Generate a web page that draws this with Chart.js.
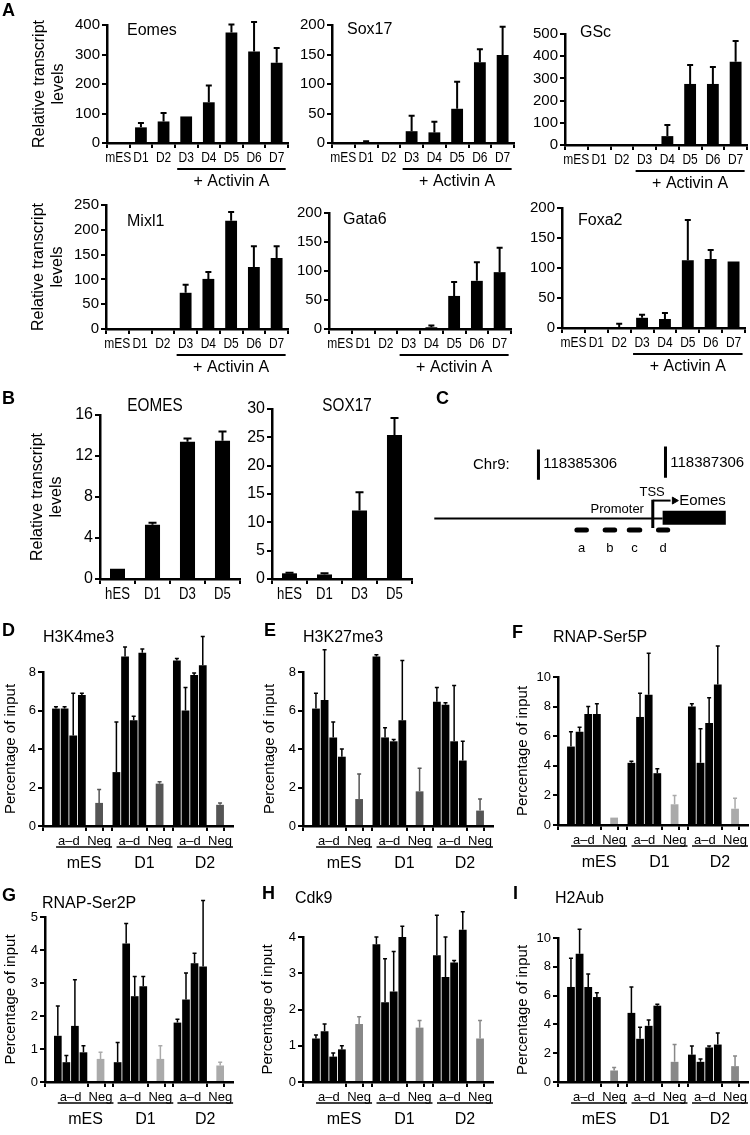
<!DOCTYPE html>
<html>
<head>
<meta charset="utf-8">
<script src="https://cdn.jsdelivr.net/npm/chart.js@4.4.1/dist/chart.umd.min.js"></script>
<style>
  body { margin: 0; background: #fff; width: 750px; height: 1135px; position: relative; overflow: hidden; }
  canvas { position: absolute; }
  .t { position: absolute; white-space: nowrap; line-height: 1; color: #000; font-family: "Liberation Sans", Arial, sans-serif; }
</style>
</head>
<body>
<script>
// ---- Panel A: mouse ES cells + Activin A (relative transcript levels) ----
const daysA = ['mES', 'D1', 'D2', 'D3', 'D4', 'D5', 'D6', 'D7'];
const eomes = [0, 53, 73, 90, 138, 375, 310, 272];
const eomesSd = [0, 15, 29, 0, 57, 27, 100, 50];
const sox17 = [0, 1, 0, 20, 18, 58, 137, 149];
const sox17Sd = [0, 2, 0, 26, 18, 46, 22, 48];
const gsc = [0, 0, 0, 0, 40, 275, 275, 375];
const gscSd = [0, 0, 0, 0, 50, 85, 76, 94];
const mixl1 = [0, 0, 0, 73, 101, 218, 125, 143];
const mixl1Sd = [0, 0, 0, 16, 14, 18, 42, 24];
const gata6 = [0, 0, 0, 0, 3, 57, 83, 98];
const gata6Sd = [0, 0, 0, 0, 3, 24, 32, 42];
const foxa2 = [0, 0, 1, 17, 15, 113, 115, 111];
const foxa2Sd = [0, 0, 6, 5, 10, 67, 15, 0];

// ---- Panel B: human ES cells ----
const daysB = ['hES', 'D1', 'D3', 'D5'];
const eomesH = [1.0, 5.3, 13.4, 13.5];
const eomesHSd = [0, 0.2, 0.3, 0.9];
const sox17H = [1.0, 0.8, 12.1, 25.4];
const sox17HSd = [0.1, 0.2, 3.2, 3.0];

// ---- Panel C: Eomes locus (bp relative to first coordinate) ----
const chrCoords = [118385306, 118387306];
const locusStart = -1640, tssPos = 1800, geneStart = 1955, geneEnd = 2950, arrowTip = 2140;
const primerNames = ['a', 'b', 'c', 'd'];
const primerStart = [565, 1010, 1390, 1850];
const primerEnd = [795, 1240, 1635, 2075];

// ---- Panels D-I: ChIP, amplicons a-d then Neg, for mES / D1 / D2 ----
const groups = ['mES', 'D1', 'D2'];
const h3k4me3 = [6.1, 6.1, 4.7, 6.8, 1.2, 2.8, 8.8, 5.5, 9.0, 2.2, 8.6, 6.0, 7.85, 8.35, 1.1];
const h3k4me3Sd = [0.1, 0.1, 2.2, 0.1, 0.7, 2.6, 0.5, 0.2, 0.2, 0.1, 0.1, 1.2, 0.1, 1.5, 0.1];
const h3k27me3 = [6.1, 6.55, 4.6, 3.6, 1.4, 8.8, 4.6, 4.4, 5.5, 1.8, 6.45, 6.3, 4.4, 3.4, 0.8];
const h3k27me3Sd = [0.8, 2.6, 0.8, 0.4, 1.3, 0.1, 0.5, 0.1, 3.1, 1.2, 0.75, 0.1, 2.9, 1.0, 0.6];
const ser5p = [5.3, 6.3, 7.5, 7.5, 0.5, 4.2, 7.3, 8.8, 3.5, 1.4, 8.0, 4.2, 6.9, 9.5, 1.1];
const ser5pSd = [1.0, 0.3, 0.5, 0.7, 0, 0.1, 1.6, 2.8, 0.3, 0.6, 0.2, 2.3, 1.7, 2.6, 0.7];
const ser2p = [1.4, 0.6, 1.7, 0.9, 0.7, 0.6, 4.2, 2.6, 2.9, 0.7, 1.8, 2.5, 3.6, 3.5, 0.5];
const ser2pSd = [0.9, 0.2, 1.4, 0.2, 0.2, 0.6, 0.6, 0.6, 0.3, 0.4, 0.1, 0.8, 0.3, 2.0, 0.1];
const cdk9 = [1.2, 1.4, 0.7, 0.9, 1.6, 3.8, 2.2, 2.5, 4.0, 1.5, 3.5, 2.9, 3.3, 4.2, 1.2];
const cdk9Sd = [0.1, 0.2, 0.1, 0.1, 0.2, 0.2, 1.2, 1.1, 0.3, 0.2, 1.1, 1.1, 0.05, 0.5, 0.5];
const h2aub = [6.6, 8.9, 6.6, 5.9, 0.8, 4.8, 3.0, 3.9, 5.3, 1.4, 1.9, 1.4, 2.4, 2.6, 1.1];
const h2aubSd = [2.0, 1.7, 0.9, 0.3, 0.2, 1.8, 0.8, 0.4, 0.1, 1.2, 0.6, 0.2, 0.1, 0.8, 0.7];

const SANS = '"Liberation Sans", Arial, sans-serif';

function addCanvas(b) {
  const c = document.createElement('canvas');
  c.width = b.w; c.height = b.h;
  c.style.left = b.x + 'px'; c.style.top = b.y + 'px';
  document.body.appendChild(c);
  return c;
}

function text(str, x, y, size, opts = {}) {
  const d = document.createElement('div');
  d.className = 't';
  d.textContent = str;
  d.style.fontSize = size + 'px';
  if (opts.bold) d.style.fontWeight = 'bold';
  d.style.top = (y - size * 0.49) + 'px';
  d.style.left = x + 'px';
  let tf = '';
  if (opts.center) tf += 'translateX(-50%) ';
  if (opts.squeeze) tf += 'scaleX(' + opts.squeeze + ')';
  if (tf) { d.style.transform = tf; d.style.transformOrigin = opts.center ? '50% 50%' : '0 50%'; }
  document.body.appendChild(d);
}

// error bars: line from bar top up to value + sd, with a small cap
const errorBars = {
  id: 'errorBars',
  afterDatasetsDraw(chart) {
    const ys = chart.scales.y, ctx = chart.ctx;
    chart.data.datasets.forEach((ds, di) => {
      if (!ds.sd) return;
      chart.getDatasetMeta(di).data.forEach((bar, i) => {
        const v = ds.data[i], e = ds.sd[i];
        if (v == null || !e) return;
        const top = ys.getPixelForValue(v + e);
        const col = Array.isArray(ds.backgroundColor) ? ds.backgroundColor[i] : ds.backgroundColor;
        ctx.save();
        ctx.strokeStyle = col;
        ctx.lineWidth = ds.errWidth || 2;
        ctx.beginPath();
        ctx.moveTo(bar.x, bar.y);
        ctx.lineTo(bar.x, top);
        ctx.moveTo(bar.x - ds.cap, top);
        ctx.lineTo(bar.x + ds.cap, top);
        ctx.stroke();
        ctx.restore();
      });
    });
  }
};

// condensed category labels under the x axis (narrow face like the figure)
const narrowTicks = {
  id: 'narrowTicks',
  afterDraw(chart, args, opts) {
    const xs = chart.scales.x, ctx = chart.ctx, y0 = chart.chartArea.bottom;
    ctx.save();
    ctx.fillStyle = '#000'; ctx.textAlign = 'center'; ctx.textBaseline = 'middle';
    ctx.font = opts.size + 'px ' + SANS;
    chart.data.labels.forEach((l, i) => {
      ctx.save();
      ctx.translate(xs.getPixelForValue(i), y0 + opts.dy);
      ctx.scale(opts.squeeze, 1);
      ctx.fillText(l, 0, 0);
      ctx.restore();
    });
    ctx.restore();
  }
};

// "+ Activin A" bracket under D3..D7
const activin = {
  id: 'activin',
  afterDraw(chart) {
    const xs = chart.scales.x, ctx = chart.ctx, y0 = chart.chartArea.bottom;
    const l = xs.getPixelForValue(3) - 9, r = xs.getPixelForValue(7) + 9;
    ctx.save();
    ctx.strokeStyle = '#000'; ctx.lineWidth = 2;
    ctx.beginPath(); ctx.moveTo(l, y0 + 26); ctx.lineTo(r, y0 + 26); ctx.stroke();
    ctx.fillStyle = '#000'; ctx.font = '16px ' + SANS;
    ctx.textAlign = 'center'; ctx.textBaseline = 'middle';
    ctx.fillText('+ Activin A', (l + r) / 2, y0 + 39);
    ctx.restore();
  }
};

// "a–d  Neg" labels + underline + day label, for ChIP panels
const groupLabels = {
  id: 'groupLabels',
  afterDraw(chart) {
    const xs = chart.scales.x, ctx = chart.ctx, y0 = chart.chartArea.bottom;
    ctx.save();
    ctx.fillStyle = '#000'; ctx.strokeStyle = '#000';
    ctx.textAlign = 'center'; ctx.textBaseline = 'middle';
    groups.forEach((g, gi) => {
      const base = gi * 7;
      const adX = (xs.getPixelForValue(base + 1) + xs.getPixelForValue(base + 4)) / 2;
      const negX = xs.getPixelForValue(base + 6);
      ctx.font = '13px ' + SANS;
      ctx.fillText('a–d', adX, y0 + 15);
      ctx.fillText('Neg', negX, y0 + 15);
      const l = adX - ctx.measureText('a–d').width / 2 - 2;
      const r = negX + ctx.measureText('Neg').width / 2 + 1;
      ctx.lineWidth = 1.5;
      ctx.beginPath(); ctx.moveTo(l, y0 + 21); ctx.lineTo(r, y0 + 21); ctx.stroke();
      ctx.font = '16px ' + SANS;
      ctx.fillText(g, (l + r) / 2, y0 + 38);
    });
    ctx.restore();
  }
};

function barChart(b, o) {
  const canvas = addCanvas(b);
  const yTitle = o.yTitle ? {
    display: true, text: o.yTitle, color: '#000',
    font: { family: SANS, size: o.yTitleSize || 16 }, padding: { top: o.yTitlePad, bottom: 0 }
  } : { display: false };
  return new Chart(canvas, {
    type: 'bar',
    data: {
      labels: o.labels,
      datasets: [{
        data: o.data, sd: o.sd, cap: o.cap, errWidth: o.errWidth,
        backgroundColor: o.colors || '#000',
        barPercentage: o.barPct, categoryPercentage: 1, clip: false
      }]
    },
    options: {
      responsive: false, animation: false, events: [],
      layout: { padding: { left: 0, top: b.padTop, right: b.padRight, bottom: 0 } },
      plugins: {
        legend: { display: false }, tooltip: { enabled: false },
        narrowTicks: o.narrow || { size: 15, dy: 15, squeeze: 0.82 }
      },
      scales: {
        x: {
          grid: {
            offset: true, drawOnChartArea: false, drawTicks: true, tickLength: 5, lineWidth: 2,
            color: o.xTickAt ? (c => o.xTickAt.includes(c.index) ? '#000' : 'rgba(0,0,0,0)') : '#000'
          },
          border: { display: true, color: '#000', width: 2.5 },
          ticks: { display: false },
          afterFit: s => { s.height = b.h - b.bottom; }
        },
        y: {
          min: 0, max: o.max,
          grid: { drawOnChartArea: false, drawTicks: true, tickLength: 5, lineWidth: 2, color: '#000' },
          border: { display: true, color: '#000', width: 2.5 },
          ticks: { stepSize: o.step, color: '#000', padding: 2, font: o.yFont },
          title: yTitle,
          afterFit: s => { s.width = b.yw; }
        }
      }
    },
    plugins: [errorBars].concat(o.plugins || [])
  });
}

// ---------- Panel A ----------
const yFontA = { family: SANS, size: 15 };
const relTitle = ['Relative transcript', 'levels'];
function panelA(b, data, sd, max, step, title) {
  barChart(b, {
    labels: daysA, data, sd, max, step, cap: 3, errWidth: 2, barPct: 0.52,
    yFont: yFontA, plugins: [narrowTicks, activin],
    narrow: { size: 15, dy: 15, squeeze: 0.8 },
    yTitle: title ? relTitle : null, yTitlePad: b.titlePad
  });
}
panelA({ x: 0, y: 0, w: 300, h: 200, yw: 107, padTop: 25, padRight: 12, bottom: 143, titlePad: 30 }, eomes, eomesSd, 400, 100, true);
panelA({ x: 250, y: 0, w: 270, h: 200, yw: 82, padTop: 25, padRight: 6, bottom: 143 }, sox17, sox17Sd, 200, 50, false);
panelA({ x: 500, y: 0, w: 250, h: 200, yw: 65, padTop: 34, padRight: 3, bottom: 145 }, gsc, gscSd, 500, 100, false);
panelA({ x: 0, y: 180, w: 300, h: 200, yw: 106, padTop: 25, padRight: 12, bottom: 149, titlePad: 29 }, mixl1, mixl1Sd, 250, 50, true);
panelA({ x: 250, y: 180, w: 270, h: 200, yw: 79, padTop: 33, padRight: 9, bottom: 149 }, gata6, gata6Sd, 200, 50, false);
panelA({ x: 500, y: 180, w: 250, h: 200, yw: 62, padTop: 28, padRight: 5, bottom: 148 }, foxa2, foxa2Sd, 200, 50, false);

// ---------- Panel B ----------
const narrowB = { size: 16, dy: 16, squeeze: 0.82 };
barChart({ x: 0, y: 385, w: 260, h: 230, yw: 100, padTop: 30, padRight: 20, bottom: 194 }, {
  labels: daysB, data: eomesH, sd: eomesHSd, max: 16, step: 4, cap: 4, errWidth: 2, barPct: 0.43,
  yFont: { family: SANS, size: 16 }, yTitle: relTitle, yTitlePad: 28,
  plugins: [narrowTicks], narrow: narrowB
});
barChart({ x: 230, y: 385, w: 200, h: 230, yw: 42, padTop: 24, padRight: 18, bottom: 194 }, {
  labels: daysB, data: sox17H, sd: sox17HSd, max: 30, step: 5, cap: 4, errWidth: 2, barPct: 0.43,
  yFont: { family: SANS, size: 16 }, plugins: [narrowTicks], narrow: narrowB
});

// ---------- Panel C: locus schematic ----------
(function () {
  const b = { x: 420, y: 380, w: 330, h: 190 };
  const canvas = addCanvas(b);
  const span = chrCoords[1] - chrCoords[0];
  const bpPerPx = span / 131;
  const xMin = -(537 - 420) * bpPerPx, xMax = (750 - 537) * bpPerPx;
  const seg = (x1, y1, x2, y2, w, cap) => ({
    type: 'line', data: [{ x: x1, y: y1 }, { x: x2, y: y2 }], borderColor: '#000',
    borderWidth: w, borderCapStyle: cap || 'butt', pointRadius: 0, clip: false
  });
  const ds = [
    seg(locusStart, 141, geneStart, 141, 2),
    seg(0, 68, 0, 100, 3),
    seg(span, 65, span, 98, 3),
    seg(tssPos, 121, tssPos, 151, 3),
    seg(tssPos, 122, arrowTip - 60, 122, 2),
    seg(geneStart, 140, geneEnd, 140, 14),
    { type: 'scatter', data: [{ x: arrowTip, y: 122 }], pointStyle: 'triangle', rotation: 90,
      pointRadius: 4, backgroundColor: '#000', borderColor: '#000', borderWidth: 1 }
  ];
  primerNames.forEach((p, i) => ds.push(seg(primerStart[i] + 40, 153, primerEnd[i] - 40, 153, 5, 'round')));
  const labels = {
    id: 'locusLabels',
    afterDraw(chart) {
      const xs = chart.scales.x, ys = chart.scales.y, ctx = chart.ctx;
      const put = (s, x, y, size, align) => {
        ctx.font = size + 'px ' + SANS; ctx.textAlign = align || 'left';
        ctx.fillText(s, xs.getPixelForValue(x), ys.getPixelForValue(y));
      };
      ctx.save(); ctx.fillStyle = '#000'; ctx.textBaseline = 'middle';
      put('Chr9:', -1030, 84, 15);
      put(String(chrCoords[0]), 75, 83, 15);
      put(String(chrCoords[1]), span + 75, 82, 15);
      put('Promoter', 1240, 131, 13, 'center');
      put('TSS', 1790, 113, 13, 'center');
      put('Eomes', 2215, 122, 15);
      primerNames.forEach((p, i) => put(p, (primerStart[i] + primerEnd[i]) / 2, 172, 13, 'center'));
      ctx.restore();
    }
  };
  new Chart(canvas, {
    type: 'line',
    data: { datasets: ds },
    options: {
      responsive: false, animation: false, events: [],
      layout: { padding: 0 },
      plugins: { legend: { display: false }, tooltip: { enabled: false } },
      scales: {
        x: { type: 'linear', display: false, min: xMin, max: xMax },
        y: { type: 'linear', display: false, min: 0, max: 190, reverse: true }
      }
    },
    plugins: [labels]
  });
})();

// ---------- Panels D-I ----------
const slotLabels = [];
groups.forEach(() => slotLabels.push('', 'a', 'b', 'c', 'd', '', 'Neg'));
slotLabels.push('');
function toSlots(vals) {
  const out = [];
  groups.forEach((g, gi) => {
    const v = vals.slice(gi * 5, gi * 5 + 5);
    out.push(null, v[0], v[1], v[2], v[3], null, v[4]);
  });
  out.push(null);
  return out;
}
function chip(b, vals, sd, max, step, negColor, titlePad) {
  const colors = slotLabels.map(l => l === 'Neg' ? negColor : '#000');
  barChart(b, {
    labels: slotLabels, data: toSlots(vals), sd: toSlots(sd), colors, max, step,
    cap: 2, errWidth: 1.5, barPct: 0.9,
    xTickAt: [0, 5, 7, 8, 12, 14, 15, 19, 21, 22],
    yFont: { family: SANS, size: 13 },
    yTitle: 'Percentage of input', yTitleSize: 15, yTitlePad: titlePad,
    plugins: [groupLabels]
  });
}
chip({ x: 0, y: 615, w: 250, h: 275, yw: 43, padTop: 57, padRight: 17, bottom: 211 }, h3k4me3, h3k4me3Sd, 8, 2, '#555', 2);
chip({ x: 250, y: 615, w: 250, h: 275, yw: 53, padTop: 57, padRight: 7, bottom: 211 }, h3k27me3, h3k27me3Sd, 8, 2, '#555', 11);
chip({ x: 500, y: 615, w: 250, h: 275, yw: 58, padTop: 62, padRight: 2, bottom: 210 }, ser5p, ser5pSd, 10, 2, '#aaa', 14);
chip({ x: 0, y: 880, w: 250, h: 255, yw: 45, padTop: 37, padRight: 17, bottom: 202 }, ser2p, ser2pSd, 5, 1, '#aaa', 2);
chip({ x: 250, y: 880, w: 250, h: 255, yw: 53, padTop: 57, padRight: 7, bottom: 202 }, cdk9, cdk9Sd, 4, 1, '#888', 9);
chip({ x: 500, y: 880, w: 250, h: 255, yw: 58, padTop: 58, padRight: 2, bottom: 202 }, h2aub, h2aubSd, 10, 2, '#888', 14);

// ---------- titles and panel letters ----------
[['A', 2, 10], ['B', 2, 398], ['C', 436, 398], ['D', 2, 630], ['E', 264, 630],
 ['F', 512, 632], ['G', 2, 895], ['H', 262, 893], ['I', 513, 893]]
  .forEach(([s, x, y]) => text(s, x, y, 18, { bold: true }));
[['Eomes', 127, 30], ['Sox17', 347, 29], ['GSc', 580, 32],
 ['Mixl1', 127, 221], ['Gata6', 343, 219], ['Foxa2', 578, 220]]
  .forEach(([s, x, y]) => text(s, x, y, 16));
text('EOMES', 155, 405, 18, { center: true, squeeze: 0.85 });
text('SOX17', 347, 405, 18, { center: true, squeeze: 0.85 });
[['H3K4me3', 43, 637], ['H3K27me3', 303, 637], ['RNAP-Ser5P', 553, 637],
 ['RNAP-Ser2P', 42, 903], ['Cdk9', 295, 898], ['H2Aub', 555, 898]]
  .forEach(([s, x, y]) => text(s, x, y, 16));
</script>
</body>
</html>
